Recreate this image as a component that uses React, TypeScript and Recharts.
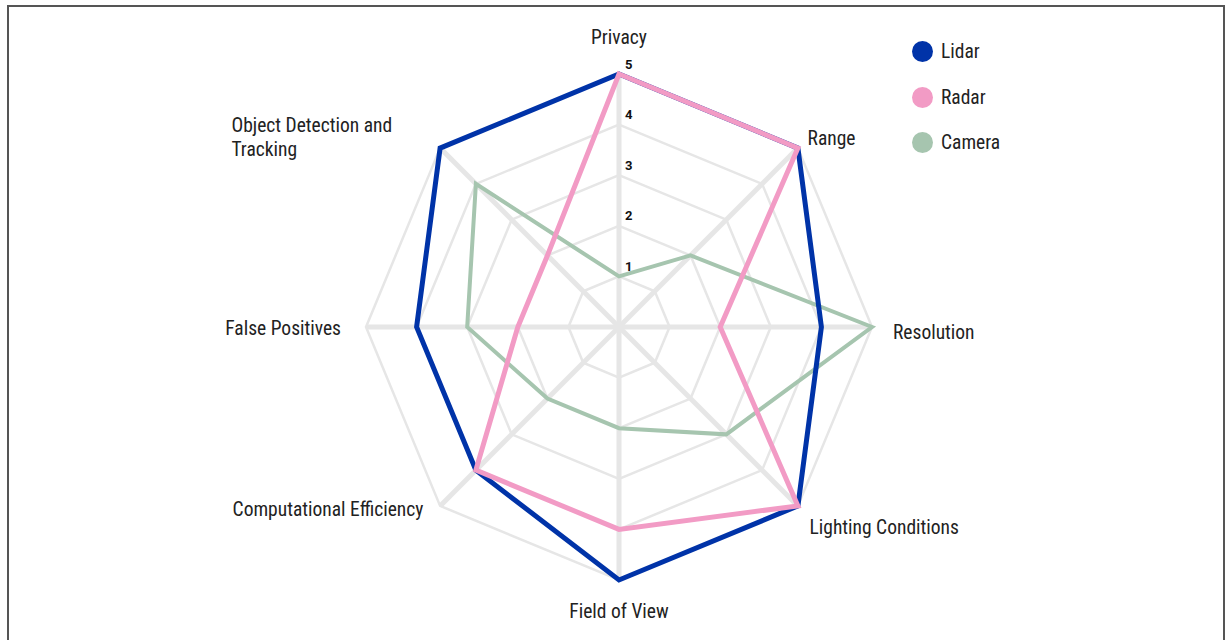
import React from 'react';
import { Radar, RadarChart, PolarGrid, PolarAngleAxis, PolarRadiusAxis, Legend } from 'recharts';

const categories = [
  'Privacy',
  'Range',
  'Resolution',
  'Lighting Conditions',
  'Field of View',
  'Computational Efficiency',
  'False Positives',
  'Object Detection and Tracking',
];
const lidar = [5, 5, 4, 5, 5, 4, 4, 5];
const radar = [5, 5, 2, 5, 4, 4, 2, 2];
const camera = [1, 2, 5, 3, 2, 2, 3, 4];
const radiusTicks = [0, 1, 2, 3, 4, 5];

const seriesInfo = [
  { key: 'Lidar', color: '#0033a8' },
  { key: 'Radar', color: '#f29bc5' },
  { key: 'Camera', color: '#a6c5af' },
];

const chartData = categories.map((c, i) => ({
  category: c,
  Lidar: lidar[i],
  Radar: radar[i],
  Camera: camera[i],
}));

const FONT = '"Roboto Condensed", "Liberation Sans Narrow", "Arial Narrow", Roboto, sans-serif';
const FS = 19.5;

// label placement per category (offset from the default tick point)
const labelPos: Record<string, { dx: number; dy: number; anchor: 'start' | 'middle' | 'end' }> = {
  Privacy: { dx: 0, dy: -29, anchor: 'middle' },
  Range: { dx: 4, dy: -4, anchor: 'start' },
  Resolution: { dx: 13, dy: 5, anchor: 'start' },
  'Lighting Conditions': { dx: 6, dy: 16, anchor: 'start' },
  'Field of View': { dx: 0, dy: 23, anchor: 'middle' },
  'Computational Efficiency': { dx: -11, dy: -2, anchor: 'end' },
  'False Positives': { dx: -17, dy: 1, anchor: 'end' },
};

const AngleTick = (props: any) => {
  const { x, y, payload } = props;
  const label = payload.value as string;
  if (label === 'Object Detection and Tracking') {
    return (
      <text x={x - 203} y={y - 17} fontFamily={FONT} fontSize={FS} fill="#222" textAnchor="start" dominantBaseline="central">
        <tspan x={x - 203} dy={0}>Object Detection and</tspan>
        <tspan x={x - 203} dy={24}>Tracking</tspan>
      </text>
    );
  }
  const p = labelPos[label] || { dx: 0, dy: 0, anchor: 'middle' };
  return (
    <text x={x + p.dx} y={y + p.dy} fontFamily={FONT} fontSize={FS} fill="#222" textAnchor={p.anchor} dominantBaseline="central">
      {label}
    </text>
  );
};

const RadiusTick = (props: any) => {
  const { x, y, payload } = props;
  if (payload.value === 0) return null;
  return (
    <text x={x + 6} y={y - 10} fontFamily="Roboto, sans-serif" fontSize={13} fontWeight={700} fill="#111" textAnchor="start" dominantBaseline="central">
      {payload.value}
    </text>
  );
};

const LegendContent = () => (
  <div style={{ fontFamily: FONT, fontSize: FS, color: '#222' }}>
    {seriesInfo.map(s => (
      <div key={s.key} style={{ display: 'flex', alignItems: 'center', height: 45.5 }}>
        <svg width={21} height={21} style={{ marginRight: 8 }}>
          <circle cx={10.5} cy={10.5} r={10.5} fill={s.color} />
        </svg>
        <span>{s.key}</span>
      </div>
    ))}
  </div>
);

export default function App() {
  return (
    <div style={{ position: 'absolute', left: 0, top: 0, width: 1226, height: 640, overflow: 'hidden', background: '#fff' }}>
      <div
        style={{
          position: 'absolute',
          left: 7,
          top: 5,
          width: 1218,
          height: 700,
          border: '2px solid #555',
          boxSizing: 'border-box',
        }}
      />
      <div style={{ position: 'absolute', left: 0, top: 0 }}>
        <RadarChart
          width={1226}
          height={640}
          data={chartData}
          cx={619}
          cy={327}
          outerRadius={253}
          margin={{ top: 0, right: 0, bottom: 0, left: 0 }}
        >
          <PolarGrid gridType="polygon" radialLines={false} stroke="#e6e6e6" strokeWidth={2.5} />
          <PolarGrid gridType="polygon" polarRadius={[]} stroke="#e6e6e6" strokeWidth={5} />
          <PolarAngleAxis dataKey="category" tick={<AngleTick />} axisLine={false} tickLine={false} />
          <PolarRadiusAxis
            angle={90}
            domain={[0, 5]}
            ticks={radiusTicks as any}
            tickCount={6}
            axisLine={false}
            tickLine={false}
            tick={<RadiusTick />}
          />
          <Radar name="Camera" dataKey="Camera" stroke="#a6c5af" strokeWidth={4} fill="none" fillOpacity={0} isAnimationActive={false} />
          <Radar name="Lidar" dataKey="Lidar" stroke="#0033a8" strokeWidth={5} fill="none" fillOpacity={0} isAnimationActive={false} />
          <Radar name="Radar" dataKey="Radar" stroke="#f29bc5" strokeWidth={5} fill="none" fillOpacity={0} isAnimationActive={false} />
          <Legend
            layout="vertical"
            verticalAlign="top"
            align="right"
            content={<LegendContent />}
            wrapperStyle={{ left: 912, top: 29, width: 150 }}
          />
        </RadarChart>
      </div>
    </div>
  );
}
